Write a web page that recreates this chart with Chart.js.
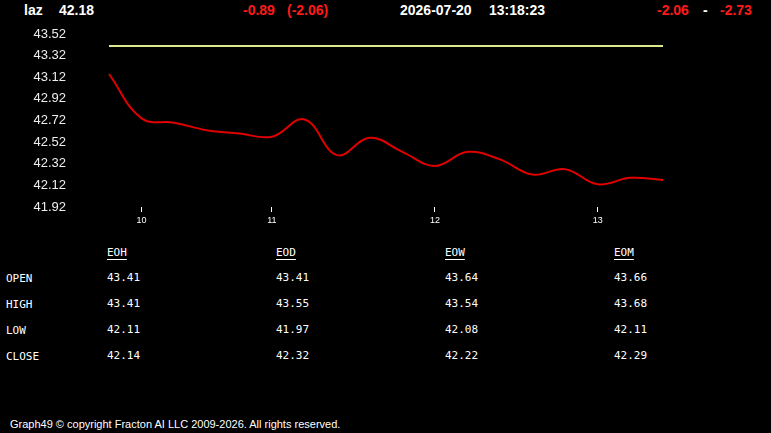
<!DOCTYPE html>
<html lang="en">
<head>
    <meta charset="UTF-8">
    <title>laz</title>
    <script src="https://cdn.jsdelivr.net/npm/chart.js@4.4.1/dist/chart.umd.min.js"></script>
    <style>
        html, body { margin: 0; padding: 0; background: #000; }
        body { width: 771px; height: 433px; position: relative; overflow: hidden; color: #fff; }
        .hd { position: absolute; top: 2px; font: bold 14px "Liberation Sans", Arial, sans-serif; white-space: pre; }
        .red { color: #ff1a1a; }
        #chartBox { position: absolute; left: 0; top: 0; width: 771px; height: 240px; }
        .cell { position: absolute; font: 11px "DejaVu Sans Mono", monospace; white-space: pre; }
        .colhead { text-decoration: underline; text-underline-offset: 3px; }
        #footer { position: absolute; left: 10px; top: 418px; font: 11px "Liberation Sans", Arial, sans-serif; }
    </style>
</head>
<body>
    <div class="hd" style="left:24px">laz</div>
    <div class="hd" style="left:59px">42.18</div>
    <div class="hd red" style="left:243px">-0.89</div>
    <div class="hd red" style="left:287px">(-2.06)</div>
    <div class="hd" style="left:400px">2026-07-20</div>
    <div class="hd" style="left:489px">13:18:23</div>
    <div class="hd red" style="left:657px">-2.06</div>
    <div class="hd" style="left:703px">-</div>
    <div class="hd red" style="left:720px">-2.73</div>

    <div id="chartBox"><canvas id="priceChart"></canvas></div>
    <div id="table"></div>
    <div id="footer">Graph49 &copy; copyright Fracton AI LLC 2009-2026. All rights reserved.</div>

    <script>
        // x categories, only hour marks are labelled
        const timeLabels = ['', '10', '', '', '', '11', '', '', '', '', '12', '', '', '', '', '13', '', ''];
        const closePrices = [43.15, 42.74, 42.70, 42.63, 42.60, 42.57, 42.73, 42.40, 42.56, 42.43,
                             42.30, 42.43, 42.36, 42.22, 42.27, 42.13, 42.19, 42.17];
        const openPrice = 43.41;
        const yTicks = [41.92, 42.12, 42.32, 42.52, 42.72, 42.92, 43.12, 43.32, 43.52];

        const tableCols = ['EOH', 'EOD', 'EOW', 'EOM'];
        const tableRows = ['OPEN', 'HIGH', 'LOW', 'CLOSE'];
        const eohValues = [43.41, 43.41, 42.11, 42.14];
        const eodValues = [43.41, 43.55, 41.97, 42.32];
        const eowValues = [43.64, 43.54, 42.08, 42.22];
        const eomValues = [43.66, 43.68, 42.11, 42.29];

        // table below the chart
        const table = document.getElementById('table');
        const colX = [107, 276, 445, 614];
        const rowY = [271, 297, 323, 349];
        const colValues = [eohValues, eodValues, eowValues, eomValues];
        function addCell(text, x, y, cls) {
            const d = document.createElement('div');
            d.className = 'cell' + (cls ? ' ' + cls : '');
            d.style.left = x + 'px';
            d.style.top = y + 'px';
            d.textContent = text;
            table.appendChild(d);
        }
        tableCols.forEach((c, i) => addCell(c, colX[i], 246, 'colhead'));
        tableRows.forEach((r, j) => {
            addCell(r, 6, rowY[j] + 1);
            colValues.forEach((vals, i) => addCell(vals[j].toFixed(2), colX[i], rowY[j]));
        });

        const ctx = document.getElementById('priceChart').getContext('2d');
        new Chart(ctx, {
            type: 'line',
            data: {
                labels: timeLabels,
                datasets: [{
                    data: timeLabels.map(() => openPrice),
                    borderColor: '#dde88c',
                    borderWidth: 2,
                    pointRadius: 0,
                    tension: 0
                }, {
                    data: closePrices,
                    borderColor: '#e00000',
                    borderWidth: 2,
                    pointRadius: 0,
                    tension: 0.4
                }]
            },
            options: {
                responsive: true,
                maintainAspectRatio: false,
                animation: false,
                layout: { padding: { top: 34, right: 108, left: 0, bottom: 0 } },
                plugins: { legend: { display: false }, tooltip: { enabled: false } },
                scales: {
                    x: {
                        offset: false,
                        border: { display: false },
                        grid: {
                            drawOnChartArea: false,
                            tickLength: 5,
                            color: (c) => (c.tick && c.tick.label) ? '#ffffff' : 'rgba(0,0,0,0)'
                        },
                        ticks: {
                            autoSkip: false,
                            maxRotation: 0,
                            padding: 3,
                            color: '#ffffff',
                            font: { family: 'Liberation Sans, Arial', size: 9 }
                        },
                        afterFit: (s) => { s.height = 33; }
                    },
                    y: {
                        min: 41.92,
                        max: 43.52,
                        border: { display: false },
                        // invisible tick marks push the labels away from the plot
                        grid: { drawOnChartArea: false, drawTicks: true, tickLength: 43, color: 'rgba(0,0,0,0)' },
                        afterBuildTicks: (s) => { s.ticks = yTicks.map(v => ({ value: v })); },
                        afterFit: (s) => { s.width = 109; },
                        ticks: {
                            padding: 0,
                            color: '#eeeeee',
                            font: { family: 'Liberation Sans, Arial', size: 13 },
                            callback: (v) => Number(v).toFixed(2)
                        }
                    }
                }
            }
        });
    </script>
</body>
</html>
